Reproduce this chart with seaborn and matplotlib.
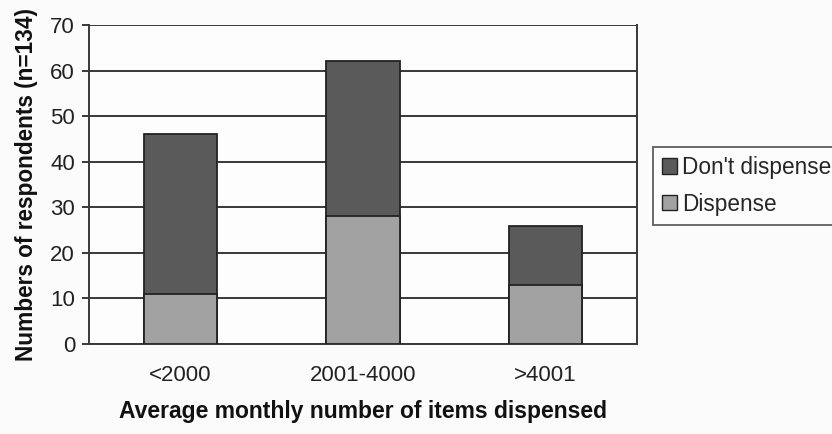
import matplotlib
matplotlib.use("Agg")
import matplotlib.pyplot as plt
from matplotlib.patches import Patch
import seaborn as sns
import pandas as pd

categories = ["<2000", "2001-4000", ">4001"]
dispense = [11, 28, 13]
dont_dispense = [35, 34, 13]

totals = [d + n for d, n in zip(dispense, dont_dispense)]
df = pd.DataFrame({"group": categories, "dispense": dispense, "total": totals})

sns.set_theme(style="white")
plt.rcParams["font.family"] = ["Liberation Sans", "DejaVu Sans"]

dark = "#5a5a5a"
light = "#a2a2a2"
edge = "#222222"
line = "#383838"

fig = plt.figure(figsize=(8.32, 4.34), dpi=100, facecolor="#fbfbfb")
ax = fig.add_axes([89 / 832, 1 - 344 / 434, (637 - 89) / 832, (344 - 25) / 434])
ax.set_facecolor("#fdfdfd")

# stacked bars: full height in the dark colour, the dispensing share on top in light
sns.barplot(data=df, x="group", y="total", color=dark, width=0.4,
            edgecolor=edge, linewidth=1.3, saturation=1, ax=ax, zorder=3)
sns.barplot(data=df, x="group", y="dispense", color=light, width=0.4,
            edgecolor=edge, linewidth=1.3, saturation=1, ax=ax, zorder=4)

ax.set_xlim(-0.5, 2.5)
ax.set_ylim(0, 70)
ax.set_yticks(range(0, 71, 10))
ax.grid(axis="y", color=line, linewidth=1.4, zorder=1)
ax.grid(axis="x", visible=False)

for side in ["left", "bottom", "right"]:
    ax.spines[side].set_visible(True)
    ax.spines[side].set_color(line)
    ax.spines[side].set_linewidth(1.4)
ax.spines["top"].set_visible(False)

ax.set_xticks([0, 1, 2])
ax.set_xticklabels(categories)
ax.set_xticks([-0.5, 0.5, 1.5, 2.5], minor=True)
ax.tick_params(axis="x", which="major", length=0, pad=15, labelsize=16, colors="#222222")
ax.tick_params(axis="x", which="minor", direction="out", length=5.5, width=1.4, color=line)
ax.tick_params(axis="y", direction="out", length=5, width=1.4, color=line,
               labelsize=16, pad=5, labelcolor="#222222", left=True)

ax.set_xlabel("Average monthly number of items dispensed", fontsize=16.5,
              fontweight="bold", labelpad=10, color="#111111")
ax.set_ylabel("Numbers of respondents (n=134)", fontsize=16.3,
              fontweight="bold", labelpad=9, color="#111111")

handles = [Patch(facecolor=dark, edgecolor=edge, label="Don't dispense"),
           Patch(facecolor=light, edgecolor=edge, label="Dispense")]
leg = fig.legend(handles=handles, loc="upper left",
                 bbox_to_anchor=(653 / 832, 1 - 147 / 434),
                 frameon=True, fancybox=False, edgecolor=line,
                 fontsize=16.3, handlelength=0.66, handleheight=0.66,
                 handletextpad=0.22, labelspacing=0.6, borderpad=0.4,
                 borderaxespad=0)
leg.get_frame().set_linewidth(1.3)
leg.get_frame().set_facecolor("#fdfdfd")

fig.savefig("out.png", dpi=100, facecolor=fig.get_facecolor())
